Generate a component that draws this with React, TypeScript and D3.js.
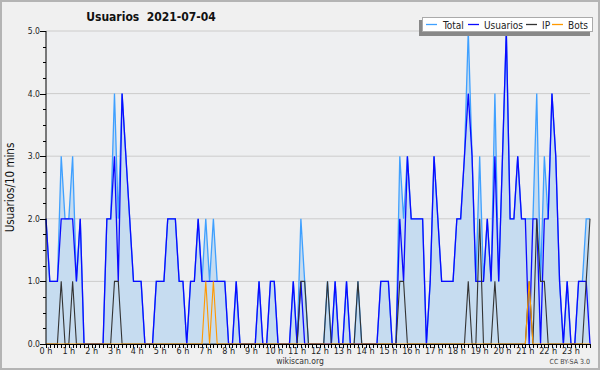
import React from "react";
import * as d3 from "d3";

// 10-minute slots 0..143 of 2021-07-04
const usuarios = [
  2, 1, 1, 1, 2, 2, 2, 2, 1, 2, 0, 0, 0, 0, 0, 0, 2, 2, 3, 1, 4, 3, 2, 1,
  1, 1, 0, 0, 0, 1, 1, 1, 2, 2, 2, 1, 1, 0, 1, 1, 2, 1, 1, 1, 1, 1, 1, 1,
  0, 0, 1, 0, 0, 0, 0, 0, 1, 0, 0, 1, 1, 0, 0, 0, 0, 1, 0, 1, 0, 0, 0, 0,
  0, 0, 0, 0, 1, 0, 0, 1, 0, 0, 0, 0, 0, 0, 0, 0, 1, 1, 1, 0, 0, 2, 1, 3,
  2, 2, 2, 2, 0, 1, 3, 2, 1, 1, 1, 1, 2, 2, 3, 4, 3, 1, 1, 1, 2, 1, 3, 1,
  3, 5, 2, 2, 3, 2, 2, 0, 2, 2, 0, 2, 2, 4, 3, 1, 0, 1, 0, 0, 1, 1, 1, 0,
];
const ip = [
  0, 0, 0, 0, 1, 0, 0, 1, 0, 0, 0, 0, 0, 0, 0, 0, 0, 0, 1, 1, 0, 0, 0, 0,
  0, 0, 0, 0, 0, 0, 0, 0, 0, 0, 0, 0, 0, 0, 0, 0, 0, 0, 0, 0, 0, 0, 0, 0,
  0, 0, 0, 0, 0, 0, 0, 0, 0, 0, 0, 0, 0, 0, 0, 0, 0, 0, 0, 1, 1, 0, 0, 0,
  0, 0, 1, 0, 0, 0, 0, 0, 0, 0, 1, 0, 0, 0, 0, 0, 0, 0, 0, 0, 0, 1, 1, 0,
  0, 0, 0, 0, 0, 0, 0, 0, 0, 0, 0, 0, 0, 0, 0, 1, 0, 0, 2, 0, 0, 0, 1, 0,
  0, 0, 0, 0, 0, 0, 0, 1, 0, 2, 1, 1, 0, 0, 0, 0, 0, 0, 0, 0, 0, 0, 1, 2,
];
const bots = [
  0, 0, 0, 0, 0, 0, 0, 0, 0, 0, 0, 0, 0, 0, 0, 0, 0, 0, 0, 0, 0, 0, 0, 0,
  0, 0, 0, 0, 0, 0, 0, 0, 0, 0, 0, 0, 0, 0, 0, 0, 0, 0, 1, 0, 1, 0, 0, 0,
  0, 0, 0, 0, 0, 0, 0, 0, 0, 0, 0, 0, 0, 0, 0, 0, 0, 0, 0, 0, 0, 0, 0, 0,
  0, 0, 0, 0, 0, 0, 0, 0, 0, 0, 0, 0, 0, 0, 0, 0, 0, 0, 0, 0, 0, 0, 0, 0,
  0, 0, 0, 0, 0, 0, 0, 0, 0, 0, 0, 0, 0, 0, 0, 0, 0, 0, 0, 0, 0, 0, 0, 0,
  0, 0, 0, 0, 0, 0, 0, 1, 0, 0, 0, 0, 0, 0, 0, 0, 0, 0, 0, 0, 0, 0, 0, 0,
];
const total = usuarios.map((u, i) => u + ip[i] + bots[i]);

const hourLabels = d3.range(24).map((h) => `${h} h`);
const yTicks = [0, 1, 2, 3, 4, 5];
const legendItems = [
  { name: "Total", color: "#3fa0ff" },
  { name: "Usuarios", color: "#0a0aff" },
  { name: "IP", color: "#333333" },
  { name: "Bots", color: "#ff9900" },
];
const title = "Usuarios  2021-07-04";
const yTitle = "Usuarios/10 mins";

const W = 600;
const H = 370;
const L = 46;
const R = 590;
const T = 31;
const B = 344;
const FONT = "'DejaVu Sans Condensed', 'DejaVu Sans', sans-serif";

export default function App() {
  const x = d3.scaleLinear().domain([0, usuarios.length - 1]).range([L, R]);
  const y = d3.scaleLinear().domain([0, 5]).range([B, T]);
  const line = (vals: number[]) =>
    d3
      .line<number>()
      .x((_, i) => x(i))
      .y((d) => y(d))(vals) as string;
  const area = d3
    .area<number>()
    .x((_, i) => x(i))
    .y0(y(0))
    .y1((d) => y(d))(total) as string;

  const minorY = d3.range(0, 5.001, 0.25);
  const legendX = [426, 468, 526, 552];
  const legendTextX = [443, 484, 542, 568];

  return (
    <svg
      width={W}
      height={H}
      style={{ position: "absolute", left: 0, top: 0, fontFamily: FONT }}
    >
      <rect x={0} y={0} width={W} height={H} fill="#f0f0f0" />
      <rect x={1} y={1} width={W - 2} height={H - 2} fill="none" stroke="#b4b4b4" strokeWidth={2} />
      <rect x={L} y={T} width={R - L} height={B - T} fill="#eeeff1" />
      {yTicks.map((t) => (
        <line key={"g" + t} x1={L} x2={R} y1={y(t)} y2={y(t)} stroke="#cccccc" strokeWidth={1} />
      ))}
      <path d={area} fill="#c6dcf0" />
      <path d={line(total)} fill="none" stroke={legendItems[0].color} strokeWidth={1.3} />
      <path d={line(usuarios)} fill="none" stroke={legendItems[1].color} strokeWidth={1.3} />
      <path d={line(ip)} fill="none" stroke={legendItems[2].color} strokeWidth={1.1} />
      <path d={line(bots)} fill="none" stroke={legendItems[3].color} strokeWidth={1.1} />

      {/* axes */}
      <line x1={L} x2={L} y1={T} y2={B} stroke="#000" strokeWidth={1} />
      <line x1={L} x2={R} y1={B + 0.5} y2={B + 0.5} stroke="#000" strokeWidth={1} />
      {minorY.map((t) => (
        <line
          key={"my" + t}
          x1={L - (Number.isInteger(t) ? 6 : 3)}
          x2={L}
          y1={Math.round(y(t)) + 0.5}
          y2={Math.round(y(t)) + 0.5}
          stroke="#000"
        />
      ))}
      {yTicks.map((t) => (
        <text key={"yl" + t} x={40} y={y(t) + 3} fontSize={8.5} textAnchor="end" fill="#222">
          {t.toFixed(1)}
        </text>
      ))}
      {usuarios.map((_, i) => (
        <line
          key={"mx" + i}
          x1={Math.round(x(i)) + 0.5}
          x2={Math.round(x(i)) + 0.5}
          y1={B}
          y2={B + 4}
          stroke="#000"
        />
      ))}
      {hourLabels.map((h, k) => (
        <text key={"xl" + k} x={x(k * 6)} y={354} fontSize={9} textAnchor="middle" fill="#222">
          {h}
        </text>
      ))}

      <text
        x={151}
        y={21}
        fontSize={12}
        fontWeight="bold"
        textAnchor="middle"
        fill="#111"
        style={{ whiteSpace: "pre" }}
        xmlSpace="preserve"
      >
        {title}
      </text>
      <text
        transform={`translate(14,${(T + B) / 2}) rotate(-90)`}
        fontSize={11.5}
        textAnchor="middle"
        fill="#111"
      >
        {yTitle}
      </text>
      <text x={300} y={364} fontSize={8.5} textAnchor="middle" fill="#333">
        wikiscan.org
      </text>
      <text x={590} y={364} fontSize={7} textAnchor="end" fill="#444">
        CC BY-SA 3.0
      </text>

      {/* legend */}
      <rect x={419} y={20} width={171} height={16} fill="#888" />
      <rect x={422.5} y={17.5} width={170} height={14} fill="#fff" stroke="#aaa" />
      {legendItems.map((it, k) => (
        <g key={it.name}>
          <line x1={legendX[k]} x2={legendX[k] + 11} y1={24.5} y2={24.5} stroke={it.color} strokeWidth={1.3} />
          <text x={legendTextX[k]} y={28.5} fontSize={10} fill="#222">
            {it.name}
          </text>
        </g>
      ))}
    </svg>
  );
}
